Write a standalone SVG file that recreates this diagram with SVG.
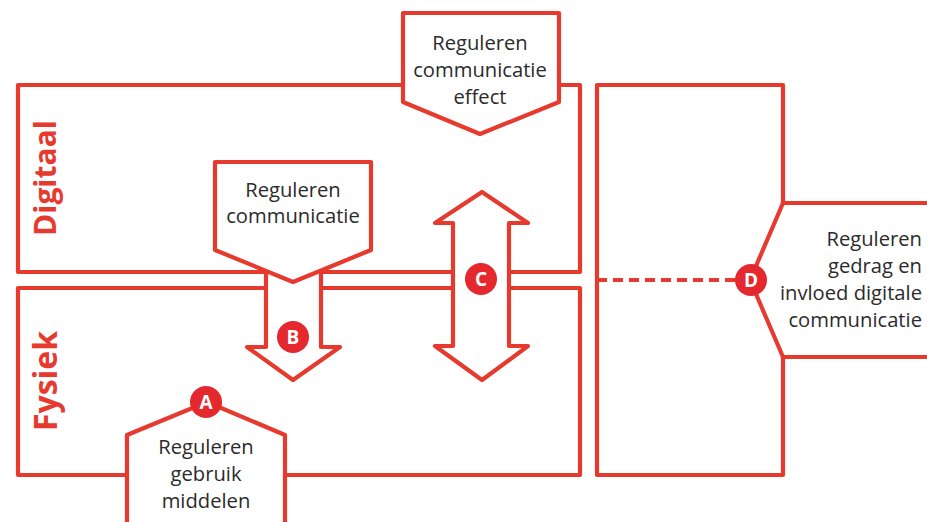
<svg xmlns="http://www.w3.org/2000/svg" width="927" height="522" viewBox="0 0 927 522">
<style>
.ln{fill:none;stroke:#e73a2f;stroke-width:4.2;stroke-linejoin:round;stroke-linecap:round}
.sh{fill:#fff;stroke:#e73a2f;stroke-width:4.2;stroke-linejoin:round;stroke-linecap:round}
.t{font-family:"Open Sans","Liberation Sans",sans-serif;font-size:20.2px;fill:#2b2b2b;text-anchor:middle}
.tr{text-anchor:end}
.side{font-family:"Open Sans","Liberation Sans",sans-serif;font-size:30px;font-weight:bold;fill:#e73a2f;text-anchor:middle}
.dot{fill:#e4282e}
.lt{font-family:"Open Sans","Liberation Sans",sans-serif;font-size:19px;font-weight:bold;fill:#fff;text-anchor:middle}
.dash{fill:none;stroke:#e73a2f;stroke-width:4.2;stroke-dasharray:10 6}
</style>
<rect width="927" height="522" fill="#fff"/>
<g id="digitaal">
<rect class="ln" x="18" y="85" width="562" height="187"/>
<text class="side" transform="translate(56,178) rotate(-90)">Digitaal</text>
</g>
<g id="fysiek">
<rect class="ln" x="18" y="288" width="562" height="187"/>
<text class="side" style="font-size:32px" transform="translate(57,381) rotate(-90)">Fysiek</text>
</g>
<g id="node-d">
<path class="ln" d="M930,203 H783 V85 H597 V475 H783 V357 H930"/>
<path class="ln" d="M783,203 L750,280 L783,357"/>
<text class="t tr" x="922" y="246">Reguleren</text>
<text class="t tr" x="922" y="273">gedrag en</text>
<text class="t tr" x="922" y="300">invloed digitale</text>
<text class="t tr" x="922" y="327">communicatie</text>
</g>
<g id="node-effect">
<path class="sh" d="M403,13 H559 V102 L480,134 L403,102 Z"/>
<text class="t" x="480" y="50">Reguleren</text>
<text class="t" x="480" y="77">communicatie</text>
<text class="t" x="480" y="104">effect</text>
</g>
<g id="node-b">
<path class="sh" d="M266,262 V347 H247 L293,380 L340,347 H321 V262"/>
<path class="sh" d="M215,162 H371 V250 L293,282 L215,250 Z"/>
<text class="t" x="293" y="197">Reguleren</text>
<text class="t" x="293" y="223">communicatie</text>
</g>
<g id="node-c">
<path class="sh" d="M482,192 L528,223 H509 V346 H528 L482,380 L435,346 H453 V223 H435 Z"/>
</g>
<g id="node-a">
<path class="sh" d="M127,530 V435 L207,402 L285,435 V530"/>
<text class="t" x="206" y="454">Reguleren</text>
<text class="t" x="206" y="481">gebruik</text>
<text class="t" x="206" y="508">middelen</text>
</g>
<g id="connectors">
<path class="dash" d="M597,280 H740"/>
</g>
<g id="markers">
<circle class="dot" cx="206" cy="402" r="16"/>
<text class="lt" x="206" y="409">A</text>
<circle class="dot" cx="293" cy="337" r="16"/>
<text class="lt" x="293" y="344">B</text>
<circle class="dot" cx="481" cy="279" r="16"/>
<text class="lt" x="481" y="286">C</text>
<circle class="dot" cx="751" cy="280" r="16"/>
<text class="lt" x="751" y="287">D</text>
</g>
</svg>
